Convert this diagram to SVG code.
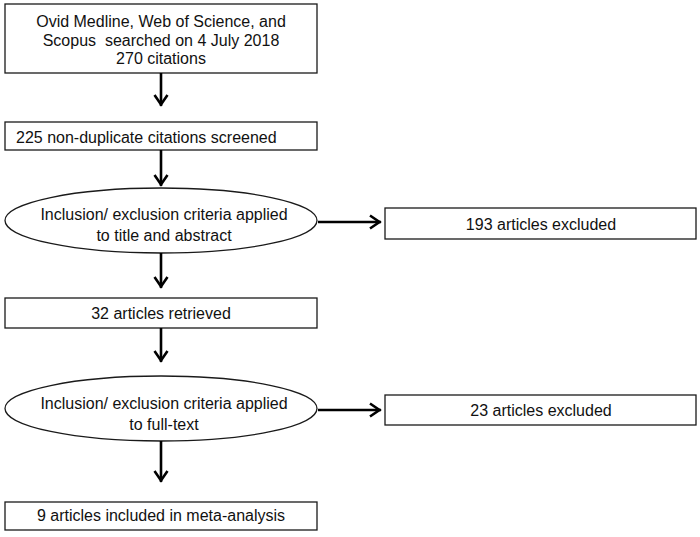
<svg xmlns="http://www.w3.org/2000/svg" width="700" height="537" viewBox="0 0 700 537">
<style>
.box{fill:#fff;stroke:#1a1a1a;stroke-width:1.3}
.t{font-family:"Liberation Sans",Arial,sans-serif;font-size:16px;fill:#111}
.c{text-anchor:middle}
.pre{white-space:pre}
.conn line{stroke:#000;stroke-width:2.6;marker-end:url(#ah)}
</style>
<defs>
<marker id="ah" markerUnits="userSpaceOnUse" viewBox="-14 -9 16 18" refX="0" refY="0" markerWidth="16" markerHeight="18" orient="auto">
<path d="M-11,-6.5 L-1.5,0 L-11,6.5" fill="none" stroke="#000" stroke-width="2.6"/>
</marker>
</defs>
<rect width="700" height="537" fill="#fff"/>
<g id="n1">
<rect class="box" x="5" y="4" width="312" height="69"/>
<text class="t c" x="161" y="27">Ovid Medline, Web of Science, and</text>
<text class="t c pre" x="161" y="45.5" xml:space="preserve">Scopus  searched on 4 July 2018</text>
<text class="t c" x="161" y="64">270 citations</text>
</g>
<g id="n2">
<rect class="box" x="5" y="122" width="312" height="28"/>
<text class="t" x="16" y="143">225 non-duplicate citations screened</text>
</g>
<g id="n3">
<ellipse class="box" cx="161" cy="220.5" rx="156" ry="32.5"/>
<text class="t c" x="164" y="220">Inclusion/ exclusion criteria applied</text>
<text class="t c" x="164" y="241">to title and abstract</text>
</g>
<g id="n4">
<rect class="box" x="385" y="208" width="311" height="31"/>
<text class="t c" x="541" y="230">193 articles excluded</text>
</g>
<g id="n5">
<rect class="box" x="5" y="298" width="312" height="30"/>
<text class="t c" x="161" y="319">32 articles retrieved</text>
</g>
<g id="n6">
<ellipse class="box" cx="161" cy="408.5" rx="156" ry="32.5"/>
<text class="t c" x="164" y="409">Inclusion/ exclusion criteria applied</text>
<text class="t c" x="164" y="430">to full-text</text>
</g>
<g id="n7">
<rect class="box" x="385" y="395" width="311" height="30"/>
<text class="t c" x="541" y="416">23 articles excluded</text>
</g>
<g id="n8">
<rect class="box" x="5" y="502" width="312" height="28"/>
<text class="t c" x="161" y="521">9 articles included in meta-analysis</text>
</g>
<g class="conn" id="connectors">
<line x1="161" y1="73" x2="161" y2="106"/>
<line x1="161" y1="150" x2="161" y2="186"/>
<line x1="318" y1="222" x2="381" y2="222"/>
<line x1="161" y1="253" x2="161" y2="288"/>
<line x1="161" y1="328" x2="161" y2="362"/>
<line x1="318" y1="410" x2="381" y2="410"/>
<line x1="161" y1="441" x2="161" y2="482"/>
</g>
</svg>
